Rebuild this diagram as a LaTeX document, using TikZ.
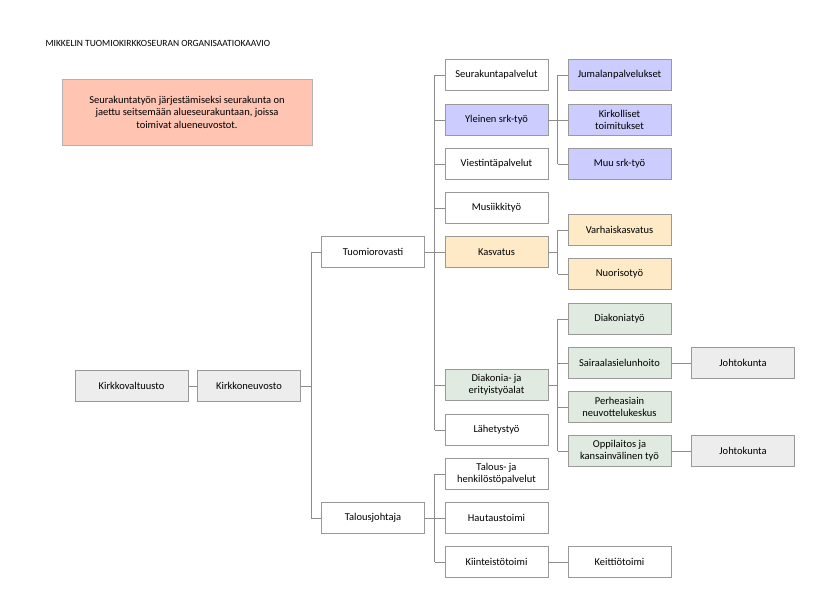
\documentclass[tikz,border=0pt]{standalone}
\usepackage{fontspec}
\setmainfont{Carlito}
\usetikzlibrary{calc}
\begin{document}
\begin{tikzpicture}[x=1pt,y=-1pt,
  box/.style={draw=black!40,line width=0.6pt,minimum width=103pt,minimum height=31pt,align=center,font=\fontsize{10.5}{12}\selectfont,inner sep=2pt},
  gr/.style={box,fill=black!7},
  lav/.style={box,fill=blue!20!white},
  yel/.style={box,fill=yellow!25!orange!20!white},
  grn/.style={box,fill=green!30!black!12!white},
  ln/.style={draw=black!45,line width=0.6pt}]
\useasboundingbox (0,0) rectangle (840,594);
\node[anchor=west,font=\fontsize{9.5}{11}\selectfont] (title) at (42,43) {MIKKELIN TUOMIOKIRKKOSEURAN ORGANISAATIOKAAVIO};
\node[draw=black!30,fill=orange!45!red!30!white,minimum width=250pt,minimum height=66pt,align=center,font=\fontsize{10.5}{12.5}\selectfont] (note) at (187,112) {Seurakuntatyön järjestämiseksi seurakunta on\\jaettu seitsemään alueseurakuntaan, joissa\\toimivat alueneuvostot.};
% column 1-2
\node[gr,minimum width=113pt] (kv) at (131.5,386) {Kirkkovaltuusto};
\node[gr] (kn) at (249,386) {Kirkkoneuvosto};
\node[box] (tr) at (373,252) {Tuomiorovasti};
\node[box] (tj) at (373,518) {Talousjohtaja};
% column 3
\node[box] (sp) at (496.5,75) {Seurakuntapalvelut};
\node[lav] (ys) at (496.5,120) {Yleinen srk-työ};
\node[box] (vp) at (496.5,164) {Viestintäpalvelut};
\node[box] (mt) at (496.5,208) {Musiikkityö};
\node[yel] (ka) at (496.5,252) {Kasvatus};
\node[grn] (de) at (496.5,385) {Diakonia- ja\\erityistyöalat};
\node[box] (lt) at (496.5,430) {Lähetystyö};
\node[box] (th) at (496.5,474) {Talous- ja\\henkilöstöpalvelut};
\node[box] (ht) at (496.5,518) {Hautaustoimi};
\node[box] (kt) at (496.5,562) {Kiinteistötoimi};
% column 4
\node[lav] (jp) at (619.5,75) {Jumalanpalvelukset};
\node[lav] (kto) at (619.5,120) {Kirkolliset\\toimitukset};
\node[lav] (ms) at (619.5,164) {Muu srk-työ};
\node[yel] (vk) at (619.5,230) {Varhaiskasvatus};
\node[yel] (nt) at (619.5,274) {Nuorisotyö};
\node[grn] (dt) at (619.5,319) {Diakoniatyö};
\node[grn] (ss) at (619.5,363) {Sairaalasielunhoito};
\node[grn] (pn) at (619.5,407) {Perheasiain\\neuvottelukeskus};
\node[grn] (ok) at (619.5,451) {Oppilaitos ja\\kansainvälinen työ};
\node[box] (ke) at (619.5,562) {Keittiötoimi};
% column 5
\node[gr] (jk1) at (743,363) {Johtokunta};
\node[gr] (jk2) at (743,451) {Johtokunta};
% connectors
\draw[ln] (kv) -- (kn);
\draw[ln] (kn.east) -- ($(kn.east)+(10,0)$);
\draw[ln] ($(tr.west)+(-10,0)$) -- (tr.west);
\draw[ln] ($(tj.west)+(-10,0)$) -- (tj.west);
\draw[ln] ($(tr.west)+(-10,0)$) -- ($(tj.west)+(-10,0)$);
\draw[ln] (tr.east) -- ($(tr.east)+(10,0)$);
\draw[ln] (tj.east) -- ($(tj.east)+(10,0)$);
\draw[ln] ($(sp.west)+(-10,0)$) -- ($(lt.west)+(-10,0)$);
\draw[ln] ($(th.west)+(-10,0)$) -- ($(kt.west)+(-10,0)$);
\foreach \n in {sp,ys,vp,mt,ka,de,lt,th,ht,kt}{\draw[ln] (\n.west) -- ++(-10,0);}
\foreach \n in {jp,kto,ms,vk,nt,dt,ss,pn,ok}{\draw[ln] (\n.west) -- ++(-10,0);}
\draw[ln] (ys.east) -- ++(10,0);
\draw[ln] (ka.east) -- ++(10,0);
\draw[ln] (de.east) -- ++(10,0);
\draw[ln] ($(jp.west)+(-10,0)$) -- ($(ms.west)+(-10,0)$);
\draw[ln] ($(vk.west)+(-10,0)$) -- ($(nt.west)+(-10,0)$);
\draw[ln] ($(dt.west)+(-10,0)$) -- ($(ok.west)+(-10,0)$);
\draw[ln] (ss) -- (jk1);
\draw[ln] (ok) -- (jk2);
\draw[ln] (kt) -- (ke);
\end{tikzpicture}
\end{document}
